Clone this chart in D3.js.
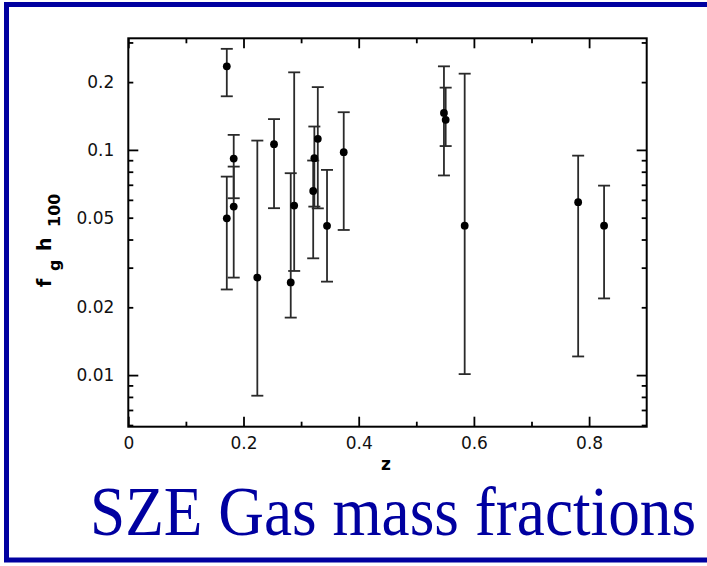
<!DOCTYPE html>
<html>
<head>
<meta charset="utf-8">
<script src="https://cdn.jsdelivr.net/npm/d3@7"></script>
<style>
  body { margin: 0; background: #fff; }
  svg { display: block; }
</style>
</head>
<body>
<div id="chart"></div>
<script>
// redshift of each cluster
var z      = [0.171, 0.171, 0.183, 0.183, 0.224, 0.253, 0.282, 0.288, 0.321,
              0.323, 0.329, 0.345, 0.374, 0.548, 0.551, 0.584, 0.781, 0.826];
// gas mass fraction f_g h_100 and error bar ends
var fg     = [0.235, 0.0497, 0.0915, 0.056, 0.0271, 0.106, 0.0258, 0.0566, 0.0657,
              0.0919, 0.112, 0.046, 0.0977, 0.146, 0.136, 0.0461, 0.0586, 0.0461];
var fgHi   = [0.281, 0.0761, 0.1166, 0.0843, 0.110, 0.137, 0.0788, 0.221, 0.0897,
              0.127, 0.190, 0.0815, 0.147, 0.235, 0.189, 0.218, 0.0943, 0.0694];
var fgLo   = [0.173, 0.0240, 0.061, 0.0271, 0.0081, 0.0551, 0.018, 0.029, 0.033,
              0.056, 0.055, 0.026, 0.0441, 0.077, 0.104, 0.0101, 0.0121, 0.0219];

var xMajor = [0, 0.2, 0.4, 0.6, 0.8];
var xMinor = [0.1, 0.3, 0.5, 0.7];
var yLong  = [0.01, 0.1];
var yShort = [0.02, 0.05, 0.2];
var yMinor = [0.006, 0.007, 0.008, 0.009, 0.03, 0.04, 0.06, 0.07, 0.08, 0.09, 0.3];

var chart_width  = 707;
var chart_height = 566;
var plotL = 128.3, plotR = 646.7, plotT = 38.3, plotB = 426.7;
var ink = "#2a2a2a";
var sans = "DejaVu Sans, Liberation Sans, sans-serif";

var svg = d3.select("#chart")
    .append("svg")
    .attr("width", chart_width)
    .attr("height", chart_height);

// blue frame round the slide
svg.append("rect")
    .attr("x", 6.5).attr("y", 4.5)
    .attr("width", 800).attr("height", 555.5)
    .attr("fill", "none")
    .attr("stroke", "#0000a0")
    .attr("stroke-width", 5);

var x_scale = d3.scaleLinear().domain([0, 0.9]).range([plotL, plotR]);
var y_scale = d3.scaleLog().domain([0.0059, 0.313]).range([plotB, plotT]);

var fmt = function(d){ return String(d); };

function drawAxis(axis, tx, ty, labels) {
    var g = svg.append("g")
        .attr("transform", "translate(" + tx + "," + ty + ")")
        .call(axis);
    g.select(".domain").remove();
    g.selectAll(".tick line").attr("stroke", "#000").attr("stroke-width", 1.8);
    g.selectAll("text")
        .attr("font-family", sans)
        .attr("font-size", 17)
        .attr("fill", "#111");
    if (!labels) g.selectAll("text").remove();
    return g;
}

// bottom / top
drawAxis(d3.axisBottom(x_scale).tickValues(xMajor).tickSize(-10).tickPadding(10).tickFormat(fmt), 0, plotB, true);
drawAxis(d3.axisBottom(x_scale).tickValues(xMinor).tickSize(-5), 0, plotB, false);
drawAxis(d3.axisTop(x_scale).tickValues(xMajor).tickSize(-10), 0, plotT, false);
drawAxis(d3.axisTop(x_scale).tickValues(xMinor).tickSize(-5), 0, plotT, false);

// left / right
drawAxis(d3.axisLeft(y_scale).tickValues(yLong).tickSize(-10).tickPadding(14).tickFormat(fmt), plotL, 0, true);
drawAxis(d3.axisLeft(y_scale).tickValues(yShort).tickSize(-5).tickPadding(14).tickFormat(fmt), plotL, 0, true);
drawAxis(d3.axisLeft(y_scale).tickValues(yMinor).tickSize(-5), plotL, 0, false);
drawAxis(d3.axisRight(y_scale).tickValues(yLong).tickSize(-10), plotR, 0, false);
drawAxis(d3.axisRight(y_scale).tickValues(yShort.concat(yMinor)).tickSize(-5), plotR, 0, false);

// plot frame
svg.append("rect")
    .attr("x", plotL).attr("y", plotT)
    .attr("width", plotR - plotL).attr("height", plotB - plotT)
    .attr("fill", "none")
    .attr("stroke", "#000")
    .attr("stroke-width", 2);

var idx = d3.range(z.length);

// error bars
svg.selectAll("line.err")
    .data(idx)
    .enter()
    .append("line")
    .attr("class", "err")
    .attr("x1", function(i){ return x_scale(z[i]); })
    .attr("x2", function(i){ return x_scale(z[i]); })
    .attr("y1", function(i){ return y_scale(fgHi[i]); })
    .attr("y2", function(i){ return y_scale(fgLo[i]); })
    .attr("stroke", ink)
    .attr("stroke-width", 1.8);

var caps = [];
idx.forEach(function(i){ caps.push([z[i], fgHi[i]]); caps.push([z[i], fgLo[i]]); });

svg.selectAll("line.cap")
    .data(caps)
    .enter()
    .append("line")
    .attr("class", "cap")
    .attr("x1", function(d){ return x_scale(d[0]) - 6; })
    .attr("x2", function(d){ return x_scale(d[0]) + 6; })
    .attr("y1", function(d){ return y_scale(d[1]); })
    .attr("y2", function(d){ return y_scale(d[1]); })
    .attr("stroke", ink)
    .attr("stroke-width", 1.8);

svg.selectAll("circle")
    .data(idx)
    .enter()
    .append("circle")
    .attr("cx", function(i){ return x_scale(z[i]); })
    .attr("cy", function(i){ return y_scale(fg[i]); })
    .attr("r", 3.9)
    .attr("fill", "#000");

// axis titles
svg.append("text")
    .attr("x", 386).attr("y", 470)
    .attr("text-anchor", "middle")
    .attr("font-family", sans)
    .attr("font-size", 17)
    .attr("font-weight", "bold")
    .text("z");

// f_g h_100, rotated; x in the rotated frame is minus the page y
var yl = svg.append("text")
    .attr("transform", "translate(51,0) rotate(-90)")
    .attr("font-family", sans)
    .attr("font-size", 19)
    .attr("font-weight", "bold");
yl.append("tspan").attr("x", -287).attr("y", 0).text("f");
yl.append("tspan").attr("x", -271).attr("y", 9).attr("font-size", 16).text("g");
yl.append("tspan").attr("x", -251).attr("y", 0).text("h");
yl.append("tspan").attr("x", -227).attr("y", 9).attr("font-size", 16).text("100");

// slide title
svg.append("text")
    .attr("transform", "translate(90,535) scale(1,1.1)")
    .attr("font-family", "Liberation Serif, Times New Roman, serif")
    .attr("font-size", 64)
    .attr("fill", "#0000a0")
    .attr("textLength", 606)
    .attr("lengthAdjust", "spacingAndGlyphs")
    .text("SZE Gas mass fractions");
</script>
</body>
</html>
